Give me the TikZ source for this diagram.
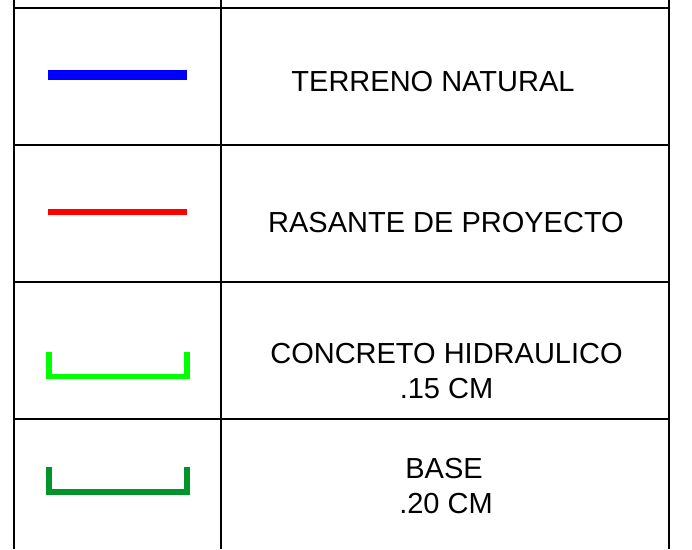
\documentclass[tikz,border=0pt]{standalone}
\usepackage{fontspec}
\setmainfont{Liberation Sans}
\definecolor{terreno}{RGB}{0,0,255}
\definecolor{rasante}{RGB}{255,0,0}
\definecolor{concreto}{RGB}{0,255,0}
\definecolor{basecol}{RGB}{0,148,42}
\begin{document}
\begin{tikzpicture}[x=1pt,y=-1pt,
  grid/.style={black, line width=2pt},
  lbl/.style={anchor=base, inner sep=0pt, font=\fontsize{29}{34}\selectfont},
  bracket/.style={line width=5.5pt, line join=miter}]
\useasboundingbox (0,0) rectangle (692,549);
\fill[white] (0,0) rectangle (692,549);
% grid
\foreach \x in {14,221,669} \draw[grid] (\x,0) -- (\x,549);
\foreach \y in {8,145,282,419} \draw[grid] (13,\y) -- (670,\y);
% symbols
\draw[terreno, line width=10pt] (48,75) -- (187,75);
\draw[rasante, line width=6pt] (48,212) -- (187,212);
\draw[concreto, bracket] (48.8,352) -- (48.8,376.3) -- (187.2,376.3) -- (187.2,352);
\draw[basecol, bracket] (48.8,467) -- (48.8,492) -- (187.2,492) -- (187.2,467);
% labels
\node[lbl] (t1) at (433,91.7) {TERRENO NATURAL};
\node[lbl] (t2) at (446,232.3) {RASANTE DE PROYECTO};
\node[lbl] (t3a) at (446.5,363) {CONCRETO HIDRAULICO};
\node[lbl] (t3b) at (446.5,398) {.15 CM};
\node[lbl] (t4a) at (444,478) {BASE};
\node[lbl] (t4b) at (446,513) {.20 CM};
\end{tikzpicture}
\end{document}
